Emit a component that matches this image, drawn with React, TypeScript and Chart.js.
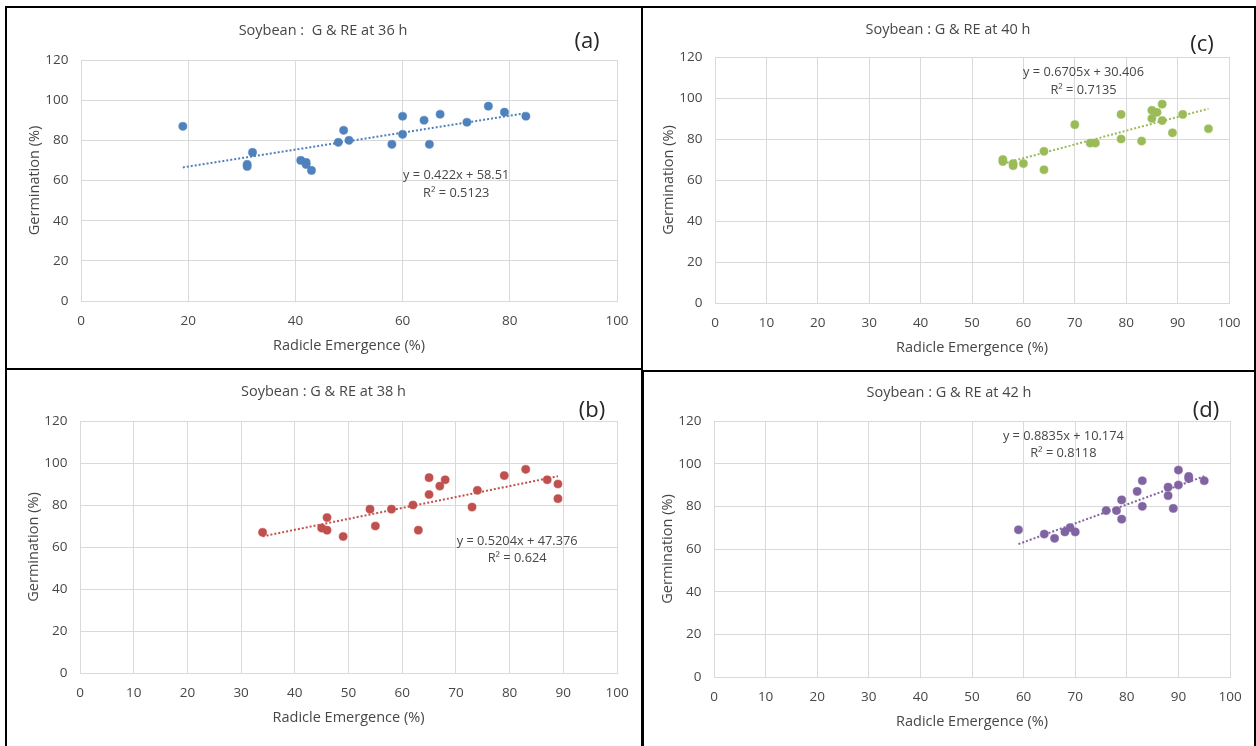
import React, { useEffect, useRef } from "react";
import { Chart, registerables } from "chart.js";

Chart.register(...registerables);

// ---- Data ----
// (a) 36 h
const re36 = [19, 31, 31, 32, 41, 42, 42, 43, 48, 49, 50, 58, 60, 60, 64, 65, 67, 72, 76, 79, 83];
const g36 = [87, 68, 67, 74, 70, 69, 68, 65, 79, 85, 80, 78, 92, 83, 90, 78, 93, 89, 97, 94, 92];
const trend36: [number, number] = [0.422, 58.51];
const r2_36 = 0.5123;

// (b) 38 h
const re38 = [34, 45, 46, 46, 49, 54, 55, 58, 62, 63, 65, 65, 67, 68, 73, 74, 79, 83, 87, 89, 89];
const g38 = [67, 69, 74, 68, 65, 78, 70, 78, 80, 68, 93, 85, 89, 92, 79, 87, 94, 97, 92, 90, 83];
const trend38: [number, number] = [0.5204, 47.376];
const r2_38 = 0.624;

// (c) 40 h
const re40 = [56, 56, 58, 58, 60, 64, 64, 70, 73, 74, 79, 79, 83, 85, 85, 86, 87, 87, 89, 91, 96];
const g40 = [70, 69, 68, 67, 68, 74, 65, 87, 78, 78, 92, 80, 79, 94, 90, 93, 97, 89, 83, 92, 85];
const trend40: [number, number] = [0.6705, 30.406];
const r2_40 = 0.7135;

// (d) 42 h
const re42 = [59, 64, 66, 68, 69, 70, 76, 78, 79, 79, 82, 83, 83, 88, 88, 89, 90, 90, 92, 92, 95];
const g42 = [69, 67, 65, 68, 70, 68, 78, 78, 83, 74, 87, 92, 80, 89, 85, 79, 97, 90, 94, 93, 92];
const trend42: [number, number] = [0.8835, 10.174];
const r2_42 = 0.8118;

const xTitle = "Radicle Emergence (%)";
const yTitle = "Germination (%)";
const yMin = 0, yMax = 120, yStep = 20;
const xMin = 0, xMax = 100;

// ---- Styling / layout ----
const FONT = "'Open Sans', 'Noto Sans', sans-serif";
const TEXT = "#474747";
const GRID = "#D9D9D9";
const TICK_SIZE = 13.5;
const AXIS_TITLE_SIZE = 14.5;
const TITLE_SIZE = 14.5;
const EQ_SIZE = 12.8;
const TAG_SIZE = 22;
const X_TICK_OFF = 20.5;
const X_TITLE_OFF = 44.5;
const Y_TITLE_OFF = 46;
const Y_TICK_GAP = 12.5;
const EQ_LINE = 17.5;

type Rect = { l: number; t: number; w: number; h: number };
type Plot = { l: number; t: number; r: number; b: number };
type PanelCfg = {
  title: string;
  tag: string;
  re: number[];
  g: number[];
  trend: [number, number];
  r2: number;
  color: string;
  xStep: number;
  box: Rect;
  plot: Plot;
  titlePos: [number, number];
  tagPos: [number, number];
  eqAt: [number, number];
};

const panels: PanelCfg[] = [
  {
    title: "Soybean :  G & RE at 36 h", tag: "(a)", re: re36, g: g36, trend: trend36, r2: r2_36,
    color: "#4F81BD", xStep: 20,
    box: { l: 7, t: 8, w: 634, h: 360 }, plot: { l: 81, t: 60, r: 617, b: 301 },
    titlePos: [323, 30.5], tagPos: [587, 42], eqAt: [70, 62.5],
  },
  {
    title: "Soybean : G & RE at 40 h", tag: "(c)", re: re40, g: g40, trend: trend40, r2: r2_40,
    color: "#9BBB59", xStep: 10,
    box: { l: 643, t: 8, w: 611, h: 362 }, plot: { l: 715, t: 57, r: 1229, b: 303 },
    titlePos: [948, 29.5], tagPos: [1202, 45], eqAt: [71.7, 112.3],
  },
  {
    title: "Soybean : G & RE at 38 h", tag: "(b)", re: re38, g: g38, trend: trend38, r2: r2_38,
    color: "#C0504D", xStep: 10,
    box: { l: 7, t: 370, w: 634, h: 376 }, plot: { l: 80, t: 421, r: 618, b: 673 },
    titlePos: [323.5, 392], tagPos: [592, 410.5], eqAt: [81.4, 62.8],
  },
  {
    title: "Soybean : G & RE at 42 h", tag: "(d)", re: re42, g: g42, trend: trend42, r2: r2_42,
    color: "#8064A2", xStep: 10,
    box: { l: 644, t: 372, w: 610, h: 374 }, plot: { l: 714, t: 421, r: 1231, b: 677 },
    titlePos: [949, 393], tagPos: [1206, 411], eqAt: [67.7, 113],
  },
];

function Panel({ cfg }: { cfg: PanelCfg }) {
  const ref = useRef<HTMLCanvasElement>(null);
  useEffect(() => {
    const canvas = ref.current;
    if (!canvas) return;
    const { box, plot } = cfg;
    const [m, c] = cfg.trend;
    const minX = Math.min(...cfg.re);
    const maxX = Math.max(...cfg.re);
    const lhTick = TICK_SIZE * 1.2;
    const lhTitle = AXIS_TITLE_SIZE * 1.2;

    const textPlugin = {
      id: "panelText",
      afterDraw(chart: any) {
        const ctx = chart.ctx as CanvasRenderingContext2D;
        ctx.save();
        ctx.textAlign = "center";
        ctx.textBaseline = "middle";
        ctx.fillStyle = TEXT;
        ctx.font = `${TITLE_SIZE}px ${FONT}`;
        ctx.fillText(cfg.title, cfg.titlePos[0] - box.l, cfg.titlePos[1] - box.t);
        ctx.fillStyle = "#262626";
        ctx.font = `${TAG_SIZE}px ${FONT}`;
        ctx.fillText(cfg.tag, cfg.tagPos[0] - box.l, cfg.tagPos[1] - box.t);
        const ex = chart.scales.x.getPixelForValue(cfg.eqAt[0]);
        const ey = chart.scales.y.getPixelForValue(cfg.eqAt[1]);
        ctx.fillStyle = TEXT;
        ctx.font = `${EQ_SIZE}px ${FONT}`;
        ctx.fillText(`y = ${m}x + ${c}`, ex, ey);
        ctx.fillText(`R\u00B2 = ${cfg.r2}`, ex, ey + EQ_LINE);
        ctx.restore();
      },
    };

    const chart = new Chart(canvas, {
      type: "scatter",
      data: {
        datasets: [
          {
            type: "line",
            data: [
              { x: minX, y: m * minX + c },
              { x: maxX, y: m * maxX + c },
            ],
            borderColor: cfg.color,
            borderWidth: 2,
            borderDash: [2, 2],
            pointRadius: 0,
            fill: false,
            order: 0,
          } as any,
          {
            data: cfg.re.map((x, i) => ({ x, y: cfg.g[i] })),
            backgroundColor: cfg.color,
            borderColor: cfg.color,
            borderWidth: 0.5,
            pointRadius: 4.1,
            order: 1,
          },
        ],
      },
      options: {
        responsive: false,
        animation: false,
        devicePixelRatio: 1,
        layout: {
          padding: { left: 0, top: plot.t - box.t, right: box.l + box.w - plot.r, bottom: 0 },
        },
        plugins: {
          legend: { display: false },
          tooltip: { enabled: false },
          title: { display: false },
        },
        scales: {
          x: {
            type: "linear",
            min: xMin,
            max: xMax,
            ticks: {
              stepSize: cfg.xStep,
              font: { family: FONT, size: TICK_SIZE },
              color: TEXT,
              padding: X_TICK_OFF - lhTick / 2,
              maxRotation: 0,
            },
            grid: { color: GRID, lineWidth: 1, drawTicks: false },
            border: { color: GRID, width: 1 },
            title: {
              display: true,
              text: xTitle,
              color: TEXT,
              font: { family: FONT, size: AXIS_TITLE_SIZE },
              padding: { top: 0, bottom: box.t + box.h - (plot.b + X_TITLE_OFF) - lhTitle / 2 },
            },
            afterFit: (s: any) => {
              s.height = box.t + box.h - plot.b;
            },
          },
          y: {
            type: "linear",
            min: yMin,
            max: yMax,
            ticks: {
              stepSize: yStep,
              font: { family: FONT, size: TICK_SIZE },
              color: TEXT,
              padding: Y_TICK_GAP,
            },
            grid: { color: GRID, lineWidth: 1, drawTicks: false },
            border: { color: GRID, width: 1 },
            title: {
              display: true,
              text: yTitle,
              color: TEXT,
              font: { family: FONT, size: AXIS_TITLE_SIZE },
              padding: { top: plot.l - Y_TITLE_OFF - box.l - lhTitle / 2, bottom: 0 },
            },
            afterFit: (s: any) => {
              s.width = plot.l - box.l;
            },
          },
        },
      } as any,
      plugins: [textPlugin],
    });
    return () => chart.destroy();
  }, [cfg]);

  return (
    <canvas
      ref={ref}
      width={cfg.box.w}
      height={cfg.box.h}
      style={{ position: "absolute", left: cfg.box.l, top: cfg.box.t, width: cfg.box.w, height: cfg.box.h }}
    />
  );
}

const borders: Rect[] = [
  { l: 5, t: 6, w: 638, h: 364 },
  { l: 641, t: 6, w: 615, h: 366 },
  { l: 5, t: 368, w: 638, h: 380 },
  { l: 642, t: 370, w: 614, h: 380 },
];

export default function App() {
  return (
    <div
      style={{
        position: "fixed",
        left: 0,
        top: 0,
        width: 1256,
        height: 746,
        background: "#fff",
        overflow: "hidden",
      }}
    >
      {borders.map((b, i) => (
        <div
          key={"b" + i}
          style={{
            position: "absolute",
            left: b.l,
            top: b.t,
            width: b.w,
            height: b.h,
            boxSizing: "border-box",
            border: "2px solid #000",
          }}
        />
      ))}
      {panels.map((p, i) => (
        <Panel key={i} cfg={p} />
      ))}
    </div>
  );
}
